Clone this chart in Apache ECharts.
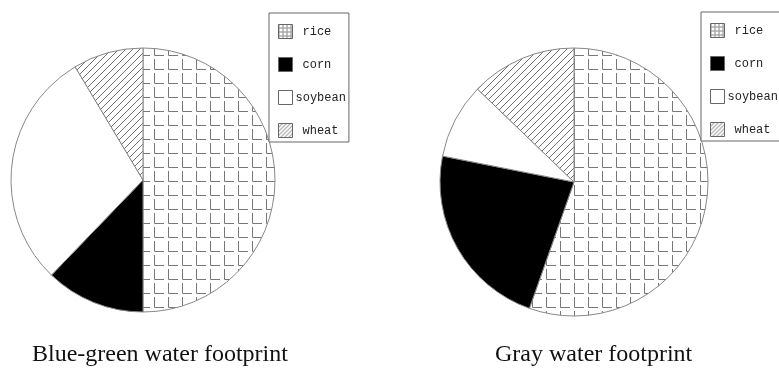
<!DOCTYPE html>
<html>
<head>
<meta charset="utf-8">
<script src="https://cdn.jsdelivr.net/npm/echarts@6/dist/echarts.min.js"></script>
<style>html,body{margin:0;padding:0;background:#fff;}#c{width:779px;height:371px;}</style>
</head>
<body>
<div id="c"></div>
<script>
var categories = ['rice', 'corn', 'soybean', 'wheat'];
var blueGreenShares = [50.0, 12.2, 29.2, 8.6];
var grayShares = [55.4, 22.7, 9.1, 12.8];
var chartTitles = ['Blue-green water footprint', 'Gray water footprint'];

function gridPattern(size, gapStart, gapEnd, col) {
  var c = document.createElement('canvas');
  c.width = size; c.height = size;
  var g = c.getContext('2d');
  g.fillStyle = '#fff'; g.fillRect(0, 0, size, size);
  g.strokeStyle = col; g.lineWidth = 1;
  g.beginPath();
  g.moveTo(0.5, gapStart); g.lineTo(0.5, size - 0.5); g.lineTo(gapEnd, size - 0.5);
  g.stroke();
  return c;
}
function hatchPattern(s, col) {
  var c = document.createElement('canvas');
  c.width = s; c.height = s;
  var g = c.getContext('2d');
  g.fillStyle = '#fff'; g.fillRect(0, 0, s, s);
  g.strokeStyle = col; g.lineWidth = 1;
  g.beginPath();
  g.moveTo(-1, s + 1); g.lineTo(s + 1, -1);
  g.moveTo(-1, 1); g.lineTo(1, -1);
  g.moveTo(s - 1, s + 1); g.lineTo(s + 1, s - 1);
  g.stroke();
  return c;
}
var fills = [
  { image: gridPattern(14, 3, 10, '#777'), repeat: 'repeat' },
  '#000000',
  '#ffffff',
  { image: hatchPattern(7, '#707070'), repeat: 'repeat' }
];
var legendFills = [
  { image: gridPattern(4, 0, 4, '#888'), repeat: 'repeat' },
  '#000000',
  '#ffffff',
  { image: hatchPattern(4, '#777'), repeat: 'repeat' }
];

function buildData(values) {
  return categories.map(function (n, i) {
    return { name: n, value: values[i], itemStyle: { color: fills[i] } };
  });
}

function legendAt(left, top) {
  return {
    orient: 'vertical', left: left, top: top,
    data: categories.map(function (n, i) {
      return { name: n, icon: 'rect', itemStyle: { color: legendFills[i], borderColor: '#666', borderWidth: 1 } };
    }),
    borderColor: '#666', borderWidth: 1, backgroundColor: '#fff',
    padding: [11, 3, 4, 9],
    itemWidth: 14, itemHeight: 14, itemGap: 18,
    selectedMode: false,
    formatter: function (name) { return name === 'soybean' ? '{s|' + name + '}' : '{n|' + name + '}'; },
    textStyle: {
      fontFamily: 'Liberation Mono', fontSize: 12, color: '#222',
      rich: {
        n: { fontFamily: 'Liberation Mono', fontSize: 12, color: '#222', padding: [0, 0, 0, 5] },
        s: { fontFamily: 'Liberation Mono', fontSize: 12, color: '#222', padding: [0, 0, 0, -2] }
      }
    }
  };
}

var titleStyle = { fontFamily: 'Liberation Serif', fontSize: 24, fontWeight: 'normal', color: '#111' };

var chart = echarts.init(document.getElementById('c'), null, { renderer: 'canvas' });
chart.setOption({
  animation: false,
  backgroundColor: '#fff',
  title: [
    { text: chartTitles[0], left: 32, top: 343, padding: 0, textStyle: titleStyle },
    { text: chartTitles[1], left: 495, top: 343, padding: 0, textStyle: titleStyle }
  ],
  legend: [legendAt(269, 13), legendAt(701, 12)],
  series: [
    { type: 'pie', center: [143, 180], radius: 132, startAngle: 90, clockwise: true,
      label: { show: false }, labelLine: { show: false }, silent: true,
      itemStyle: { borderColor: '#888', borderWidth: 1 },
      emphasis: { disabled: true },
      data: buildData(blueGreenShares) },
    { type: 'pie', center: [574, 182], radius: 134, startAngle: 90, clockwise: true,
      label: { show: false }, labelLine: { show: false }, silent: true,
      itemStyle: { borderColor: '#888', borderWidth: 1 },
      emphasis: { disabled: true },
      data: buildData(grayShares) }
  ]
});
</script>
</body>
</html>
